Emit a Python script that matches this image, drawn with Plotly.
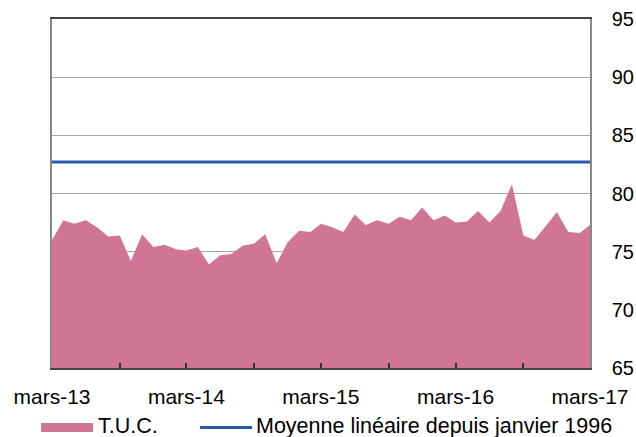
import plotly.graph_objects as go
import pandas as pd

# monthly T.U.C. values, mars-13 .. mars-17
months = pd.date_range("2013-03-01", "2017-03-01", freq="MS")
tuc = [76.0, 77.7, 77.4, 77.7, 77.1, 76.3, 76.4, 74.2, 76.5, 75.4, 75.6, 75.2,
       75.1, 75.4, 73.9, 74.7, 74.8, 75.5, 75.7, 76.5, 74.0, 75.8, 76.8, 76.7,
       77.4, 77.1, 76.7, 78.2, 77.3, 77.7, 77.4, 78.0, 77.7, 78.8, 77.7, 78.1,
       77.5, 77.6, 78.5, 77.5, 78.5, 80.8, 76.4, 76.0, 77.2, 78.4, 76.7, 76.6,
       77.3]
moyenne = 82.7

tick_dates = pd.date_range("2013-03-01", "2017-03-01", freq="6MS")
tick_text = [d.strftime("mars-%y") if d.month == 3 else "" for d in tick_dates]

PINK = "#D17596"
BLUE = "#2A5BA8"
FONT = "Liberation Sans, Arial, sans-serif"

fig = go.Figure()

fig.add_trace(go.Scatter(
    x=months, y=tuc, mode="lines", line=dict(width=0, color=PINK),
    fill="tozeroy", fillcolor=PINK, name="T.U.C.", showlegend=False
))
fig.add_trace(go.Scatter(
    x=months, y=[moyenne] * len(months), mode="lines",
    line=dict(color=BLUE, width=3), name="Moyenne linéaire depuis janvier 1996",
    showlegend=False
))

# hand-drawn legend below the axis
fig.add_shape(type="rect", xref="paper", yref="paper",
              x0=-0.0204, x1=0.0762, y0=-0.1834, y1=-0.1576,
              fillcolor=PINK, line=dict(width=0))
fig.add_shape(type="line", xref="paper", yref="paper",
              x0=0.275, x1=0.372, y0=-0.1705, y1=-0.1705,
              line=dict(color=BLUE, width=3))
fig.add_annotation(text="T.U.C.", xref="paper", yref="paper", x=0.082, y=-0.165,
                   xanchor="left", yanchor="middle", showarrow=False,
                   font=dict(size=21.5, color="#000", family=FONT))
fig.add_annotation(text="Moyenne linéaire depuis janvier 1996", xref="paper", yref="paper",
                   x=0.376, y=-0.165, xanchor="left", yanchor="middle", showarrow=False,
                   font=dict(size=21.5, color="#000", family=FONT))

fig.update_layout(
    width=636, height=437,
    margin=dict(l=52, r=46, t=19, b=69, autoexpand=False),
    paper_bgcolor="white", plot_bgcolor="white",
    font=dict(family=FONT, size=20, color="#000"),
    showlegend=False,
)
fig.update_xaxes(
    range=[months[0], months[-1]], automargin=False,
    tickvals=tick_dates, ticktext=tick_text,
    ticks="inside", ticklen=5, tickwidth=1.5, tickcolor="#333",
    showline=True, linecolor="#444", linewidth=1.5, mirror=True,
    showgrid=False, tickfont=dict(size=21), ticklabelstandoff=9,
)
fig.update_yaxes(
    side="right", range=[65, 95], dtick=5, automargin=False,
    showgrid=True, gridcolor="#A6A6A6", gridwidth=1,
    showline=True, linecolor="#888", linewidth=1.5, mirror=True,
    ticks="", ticklabelstandoff=16, tickfont=dict(size=20),
    zeroline=False,
)

fig.write_html("out.html", config={"displayModeBar": False},
               post_script="document.body.style.margin='0';")
